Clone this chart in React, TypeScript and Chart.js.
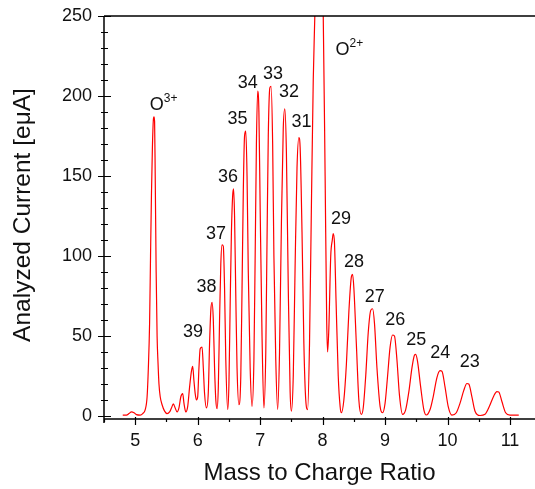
import React, { useEffect, useRef } from "react";
import { Chart, registerables } from "chart.js";

Chart.register(...registerables);

// Spectrum: [mass-to-charge, analyzed current (eμA)]
const spectrum: [number, number][] = [
  [4.80, 0.5], [4.86, 0.5], [4.90, 1.5], [4.94, 2.5], [4.98, 2], [5.02, 0.8], [5.08, 0.5], [5.12, 1.5],
  [5.16, 4], [5.19, 12], [5.21, 30], [5.23, 58], [5.245, 100], [5.26, 139], [5.275, 168], [5.29, 185],
  [5.30, 187], [5.31, 184], [5.32, 150], [5.335, 90], [5.35, 50], [5.365, 33], [5.38, 20], [5.40, 12],
  [5.43, 7], [5.47, 3], [5.51, 1.5], [5.55, 2.5], [5.58, 5], [5.61, 7.5], [5.64, 5], [5.67, 2.5],
  [5.70, 5], [5.73, 12], [5.76, 14], [5.78, 8], [5.81, 2.5], [5.84, 6], [5.87, 18], [5.90, 28],
  [5.92, 31], [5.94, 22], [5.96, 14], [5.98, 10], [6.00, 12], [6.02, 30], [6.04, 42], [6.07, 43],
  [6.09, 30], [6.11, 14], [6.14, 5], [6.17, 15], [6.19, 45], [6.21, 66], [6.23, 71], [6.25, 60],
  [6.27, 30], [6.29, 10], [6.31, 4.5], [6.33, 18], [6.35, 60], [6.37, 95], [6.39, 107], [6.41, 106],
  [6.43, 80], [6.45, 35], [6.48, 4], [6.50, 20], [6.52, 70], [6.54, 115], [6.56, 138], [6.575, 142],
  [6.59, 125], [6.61, 75], [6.63, 30], [6.66, 7], [6.69, 25], [6.71, 80], [6.73, 140], [6.75, 175],
  [6.77, 178], [6.79, 150], [6.81, 90], [6.84, 30], [6.87, 6], [6.90, 35], [6.92, 100], [6.94, 170],
  [6.96, 203], [6.98, 190], [7.00, 130], [7.03, 50], [7.06, 5], [7.09, 40], [7.11, 110], [7.13, 175],
  [7.155, 205], [7.175, 206], [7.20, 170], [7.22, 100], [7.25, 35], [7.28, 4], [7.31, 40], [7.34, 120],
  [7.37, 180], [7.395, 192], [7.42, 165], [7.45, 80], [7.48, 15], [7.50, 3], [7.53, 25], [7.56, 95],
  [7.59, 155], [7.62, 174], [7.64, 168], [7.67, 115], [7.70, 45], [7.73, 10], [7.76, 4], [7.79, 45],
  [7.82, 130], [7.85, 210], [7.875, 250], [7.91, 320], [7.94, 345], [7.97, 320], [8.01, 250], [8.04, 150],
  [8.065, 60], [8.08, 40], [8.10, 55], [8.13, 100], [8.155, 110], [8.17, 114], [8.19, 108], [8.215, 72],
  [8.25, 25], [8.28, 6], [8.30, 2], [8.34, 10], [8.38, 32], [8.42, 65], [8.46, 87], [8.48, 88.5],
  [8.50, 80], [8.54, 45], [8.58, 10], [8.62, 1], [8.65, 5], [8.69, 25], [8.73, 52], [8.77, 66],
  [8.80, 67], [8.83, 58], [8.87, 30], [8.92, 6], [8.96, 2], [9.00, 8], [9.04, 25], [9.08, 43],
  [9.12, 50.6], [9.15, 50], [9.19, 35], [9.23, 13], [9.28, 1], [9.33, 4], [9.38, 15], [9.43, 30],
  [9.47, 38], [9.49, 38.5], [9.52, 34], [9.57, 18], [9.62, 4], [9.66, 0.6], [9.72, 4], [9.77, 12],
  [9.83, 24], [9.88, 28.3], [9.91, 28], [9.96, 18], [10.01, 6], [10.07, 0.5], [10.14, 2], [10.20, 8],
  [10.26, 16], [10.31, 20.3], [10.34, 20], [10.39, 12], [10.44, 3], [10.52, 0.3], [10.60, 1], [10.67, 6],
  [10.74, 12.5], [10.79, 15.2], [10.82, 15], [10.87, 9], [10.93, 2], [11.00, 0.5], [11.14, 0.5],
];

const xTickValues = [5, 6, 7, 8, 9, 10, 11];
const yTickValues = [0, 50, 100, 150, 200, 250];

// Charge-state labels (centre positions in data units)
const peakLabels = ["39", "38", "37", "36", "35", "34", "33", "32", "31", "29", "28", "27", "26", "25", "24", "23"];
const peakLabelX = [5.926, 6.141, 6.295, 6.487, 6.639, 6.803, 7.204, 7.46, 7.663, 8.293, 8.502, 8.833, 9.163, 9.5, 9.885, 10.356];
const peakLabelY = [52.7, 80.6, 113.9, 149.4, 185.75, 208.1, 213.75, 202.2, 183.9, 123.1, 96.4, 74.6, 59.8, 47.3, 39.2, 33.9];

// Ion labels (left / baseline of the "O")
const ionCharges = ["3+", "2+"];
const ionLabelX = [5.232, 8.208];
const ionLabelY = [191.25, 225.6];

const FONT = "'Liberation Sans', Arial, sans-serif";
const TEXT = "#111";

const decorPlugin = {
  id: "decor",
  afterDatasetsDraw(chart: any) {
    const { ctx, chartArea: a } = chart;
    const xs = chart.scales.x;
    const ys = chart.scales.y;
    ctx.save();
    ctx.strokeStyle = "#000";
    ctx.lineWidth = 1.5;
    ctx.beginPath();
    ctx.moveTo(a.left, a.top);
    ctx.lineTo(a.right, a.top);
    ctx.moveTo(a.left, a.top);
    ctx.lineTo(a.left, a.bottom + 4);
    ctx.moveTo(a.left, a.bottom);
    ctx.lineTo(a.right, a.bottom);
    ctx.stroke();

    ctx.lineWidth = 1.2;
    ctx.beginPath();
    for (let v = yTickValues[0]; v <= yTickValues[yTickValues.length - 1]; v += 10) {
      const py = Math.round(ys.getPixelForValue(v)) + 0.5;
      const major = yTickValues.includes(v);
      ctx.moveTo(a.left - (major ? 6 : 3), py);
      ctx.lineTo(a.left + (major ? 7 : 4), py);
    }
    for (let v = xTickValues[0] - 0.5; v <= xTickValues[xTickValues.length - 1] + 0.5; v += 0.5) {
      if (v < xs.min || v > xs.max) continue;
      const px = Math.round(xs.getPixelForValue(v)) + 0.5;
      const major = xTickValues.includes(v);
      ctx.moveTo(px, a.bottom - (major ? 2 : 0));
      ctx.lineTo(px, a.bottom + (major ? 6 : 3));
    }
    ctx.stroke();

    ctx.fillStyle = TEXT;
    ctx.font = `18px ${FONT}`;
    ctx.textAlign = "center";
    ctx.textBaseline = "middle";
    peakLabels.forEach((t, i) => {
      ctx.fillText(t, xs.getPixelForValue(peakLabelX[i]), ys.getPixelForValue(peakLabelY[i]));
    });

    ionCharges.forEach((c, i) => {
      const px = xs.getPixelForValue(ionLabelX[i]);
      const py = ys.getPixelForValue(ionLabelY[i]);
      ctx.textAlign = "left";
      ctx.textBaseline = "alphabetic";
      ctx.font = `18px ${FONT}`;
      ctx.fillText("O", px, py);
      const w = ctx.measureText("O").width;
      ctx.font = `12px ${FONT}`;
      ctx.fillText(c, px + w, py - 8);
    });

    ctx.font = `24px ${FONT}`;
    ctx.textAlign = "center";
    ctx.textBaseline = "alphabetic";
    ctx.fillText("Mass to Charge Ratio", (a.left + a.right) / 2, 480);

    ctx.translate(30, 215);
    ctx.rotate(-Math.PI / 2);
    ctx.font = `24.5px ${FONT}`;
    ctx.fillText("Analyzed Current [eμA]", 0, 0);
    ctx.restore();
  },
};

export default function App() {
  const ref = useRef<HTMLCanvasElement | null>(null);
  useEffect(() => {
    if (!ref.current) return;
    const chart = new Chart(ref.current, {
      type: "line",
      data: {
        datasets: [
          {
            data: spectrum.map(([x, y]) => ({ x, y })),
            borderColor: "#ff0000",
            borderWidth: 1.2,
            pointRadius: 0,
            cubicInterpolationMode: "monotone",
            fill: false,
          },
        ],
      },
      options: {
        responsive: false,
        animation: false,
        layout: { padding: { top: 16, right: 0, left: 0, bottom: 0 } },
        plugins: { legend: { display: false }, tooltip: { enabled: false } },
        scales: {
          x: {
            type: "linear",
            min: 4.5,
            max: 11.4,
            grid: { display: false, drawTicks: false },
            border: { display: false },
            afterBuildTicks: (s: any) => {
              s.ticks = xTickValues.map((v) => ({ value: v }));
            },
            afterFit: (s: any) => {
              s.height = 70;
              s.paddingLeft = 0;
              s.paddingRight = 0;
            },
            ticks: {
              padding: 11,
              color: TEXT,
              font: { family: FONT, size: 18 },
              maxRotation: 0,
              autoSkip: false,
            },
          },
          y: {
            type: "linear",
            min: -1.9,
            max: 250,
            grid: { display: false, drawTicks: false },
            border: { display: false },
            afterBuildTicks: (s: any) => {
              s.ticks = yTickValues.map((v) => ({ value: v }));
            },
            afterFit: (s: any) => {
              s.width = 104;
              s.paddingTop = 0;
              s.paddingBottom = 0;
            },
            ticks: {
              padding: 12,
              color: TEXT,
              font: { family: FONT, size: 18 },
            },
          },
        },
      },
      plugins: [decorPlugin],
    });
    return () => chart.destroy();
  }, []);
  return (
    <canvas
      ref={ref}
      width={535}
      height={489}
      style={{ position: "fixed", left: 0, top: 0, display: "block", background: "#fff" }}
    />
  );
}
